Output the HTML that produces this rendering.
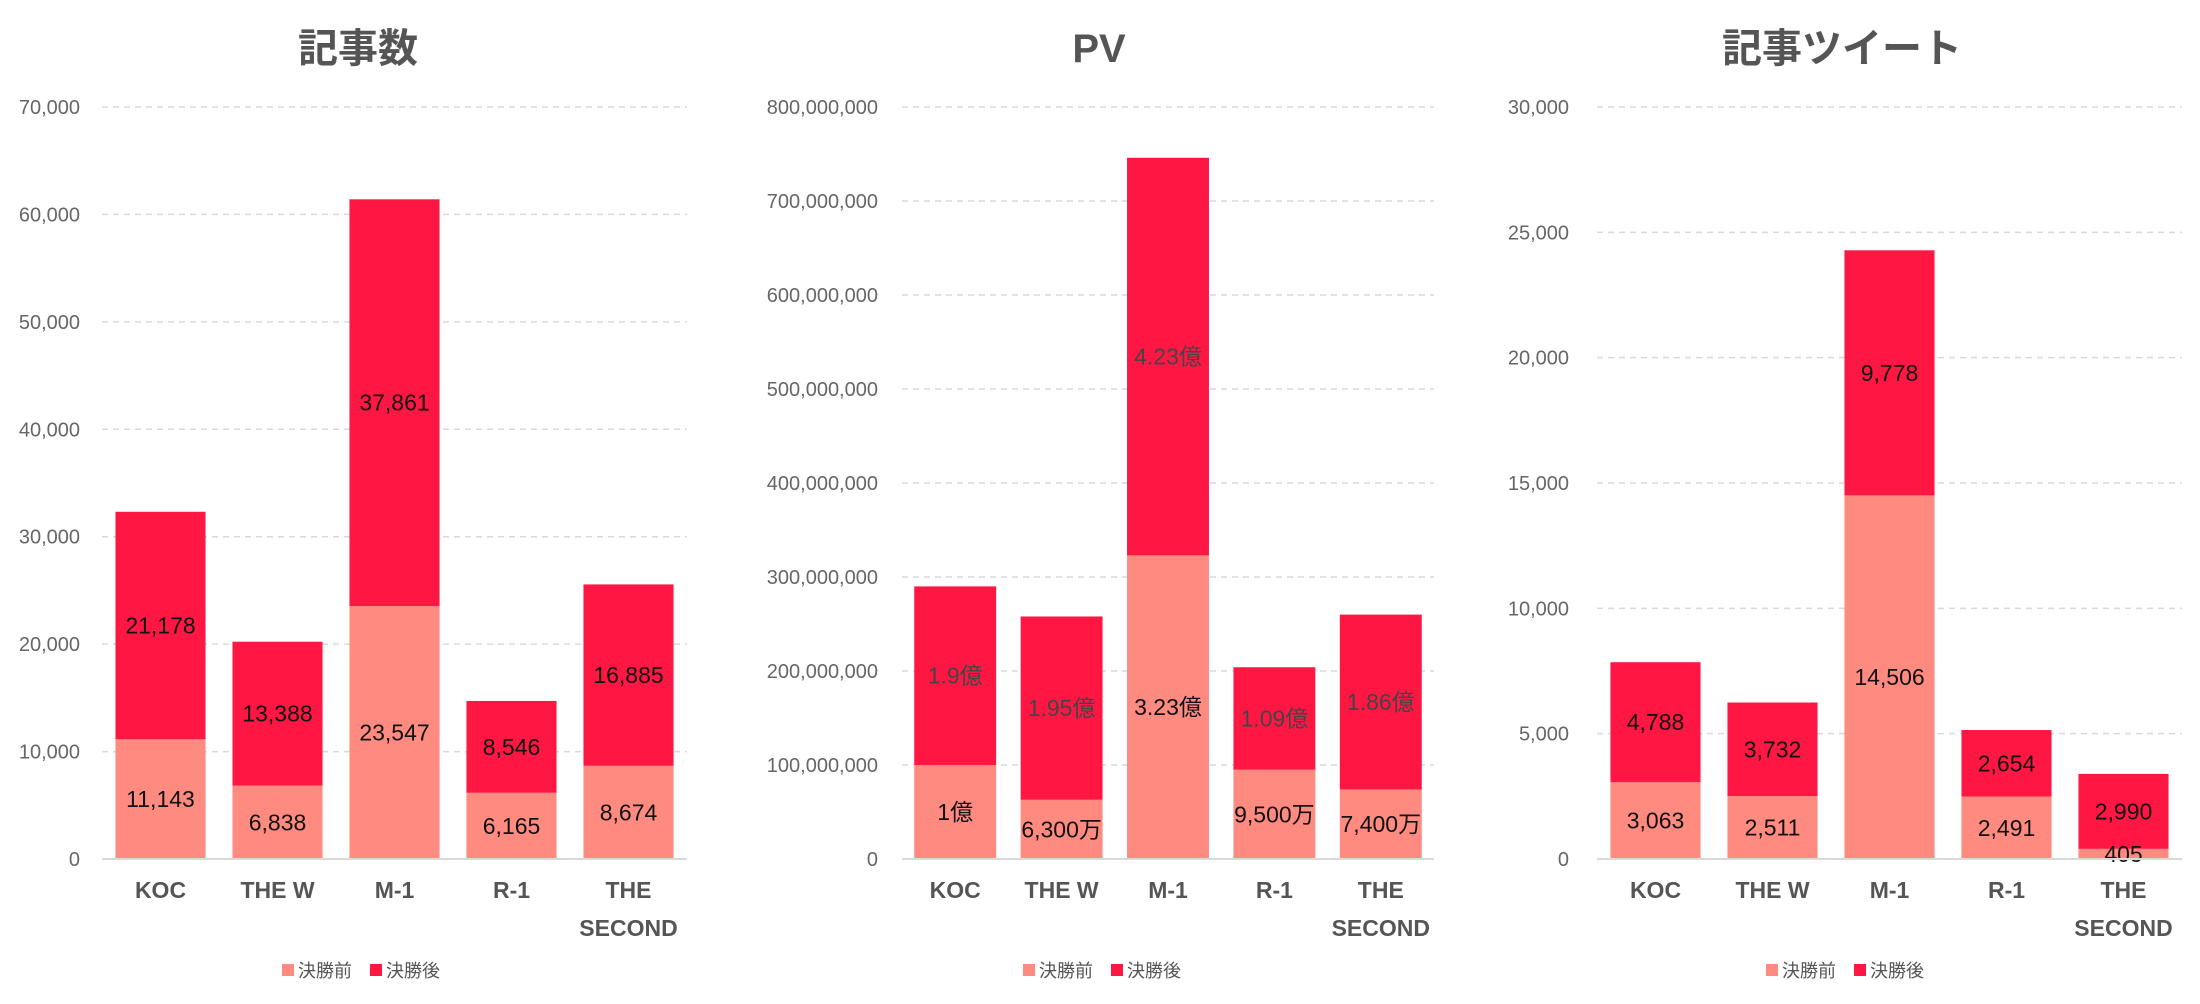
<!DOCTYPE html>
<html><head><meta charset="utf-8"><style>
html,body{margin:0;padding:0;background:#fff;}
svg{display:block;font-family:"Liberation Sans","Noto Sans CJK JP",sans-serif;}
</style></head><body>
<svg id="chart" width="2200" height="1004" viewBox="0 0 2200 1004"></svg>
<script>
const categories = ["KOC","THE W","M-1","R-1","THE SECOND"];
const articlesBefore = [11143,6838,23547,6165,8674];
const articlesAfter = [21178,13388,37861,8546,16885];
const articlesTicks = [0,10000,20000,30000,40000,50000,60000,70000];
const pvBefore = [100000000,63000000,323000000,95000000,74000000];
const pvAfter = [190000000,195000000,423000000,109000000,186000000];
const pvBeforeLabels = ["1億","6,300万","3.23億","9,500万","7,400万"];
const pvAfterLabels = ["1.9億","1.95億","4.23億","1.09億","1.86億"];
const pvTicks = [0,100000000,200000000,300000000,400000000,500000000,600000000,700000000,800000000];
const tweetBefore = [3063,2511,14506,2491,405];
const tweetAfter = [4788,3732,9778,2654,2990];
const tweetTicks = [0,5000,10000,15000,20000,25000,30000];
const legendLabels = ["決勝前","決勝後"];

const NS="http://www.w3.org/2000/svg";
const svg=document.getElementById('chart');
const fmt=v=>v.toLocaleString('en-US');
function mk(tag,attrs,parent){const e=document.createElementNS(NS,tag);for(const k in attrs)e.setAttribute(k,attrs[k]);(parent||svg).appendChild(e);return e;}

function drawChart(cfg){
  const g=mk('g',{});
  
  
  const y0=859, yTop=107;
  const maxV=cfg.ticks[cfg.ticks.length-1];
  const yS=v=>y0-(v/maxV)*(y0-yTop);
  const band=(cfg.right-cfg.left)/categories.length;
  const xC=i=>cfg.left+band*(i+0.5);
  const bw=band*0.77;
  const t=mk('text',{x:cfg.center,y:62,'text-anchor':'middle','font-size':40,'font-weight':'bold',fill:'#555'},g);
  t.textContent=cfg.title;
  
  
  cfg.ticks.forEach(v=>{
    const y=yS(v);
    if(v!==0){
      const l=mk('line',{x1:cfg.left,x2:cfg.right,y1:y,y2:y,stroke:'#d9d9d9','stroke-width':1.5,'stroke-dasharray':'6,5'},g);
      
      
    }
    const tl=mk('text',{x:cfg.labelX,y:y+7,'text-anchor':'end','font-size':20,fill:'#666'},g);
    tl.textContent=fmt(v);
    
    
  });
  categories.forEach((c,i)=>{
    const b=cfg.before[i], a=cfg.after[i];
    const x=xC(i)-bw/2;
    const r1=mk('rect',{x:x,y:yS(b),width:bw,height:y0-yS(b),fill:'#FF8A80'},g);
    
    
    const r2=mk('rect',{x:x,y:yS(a+b),width:bw,height:yS(b)-yS(a+b),fill:'#FF1744'},g);
    
    
    const lb=mk('text',{x:xC(i),y:(y0+yS(b))/2+8,'text-anchor':'middle','font-size':23,fill:'#111'},g);
    lb.textContent=cfg.beforeLabels?cfg.beforeLabels[i]:fmt(b);
    
    
    const la=mk('text',{x:xC(i),y:(yS(b)+yS(a+b))/2+8,'text-anchor':'middle','font-size':23,fill:cfg.afterColor||'#111'},g);
    la.textContent=cfg.afterLabels?cfg.afterLabels[i]:fmt(a);
    
    
    const parts=c==="THE SECOND"?["THE","SECOND"]:[c];
    parts.forEach((p,k)=>{
      const cl=mk('text',{x:xC(i),y:898+k*38,'text-anchor':'middle','font-size':23,'font-weight':'bold',fill:'#555'},g);
      cl.textContent=p;
      
      
    });
  });
  const ax=mk('line',{x1:cfg.left,x2:cfg.right,y1:y0,y2:y0,stroke:'#d9d9d9','stroke-width':2},g);
  
  
  const lc=cfg.center;
  const cols=['#FF8A80','#FF1744'];
  [-76,12].forEach((dx,k)=>{
    const sw=mk('rect',{x:lc+dx,y:964,width:12,height:12,fill:cols[k]},g);
    
    
    const lt=mk('text',{x:lc+dx+16,y:977,'font-size':18,fill:'#555'},g);
    lt.textContent=legendLabels[k];
    
    
  });
}
drawChart({name:'articles-chart',title:'記事数',left:102,right:687,labelX:80,center:358,ticks:articlesTicks,before:articlesBefore,after:articlesAfter});
drawChart({name:'pv-chart',title:'PV',left:902,right:1434,labelX:878,center:1099,ticks:pvTicks,before:pvBefore,after:pvAfter,beforeLabels:pvBeforeLabels,afterLabels:pvAfterLabels,afterColor:'#444'});
drawChart({name:'tweets-chart',title:'記事ツイート',left:1597,right:2182,labelX:1569,center:1842,ticks:tweetTicks,before:tweetBefore,after:tweetAfter});
</script>
</body></html>
